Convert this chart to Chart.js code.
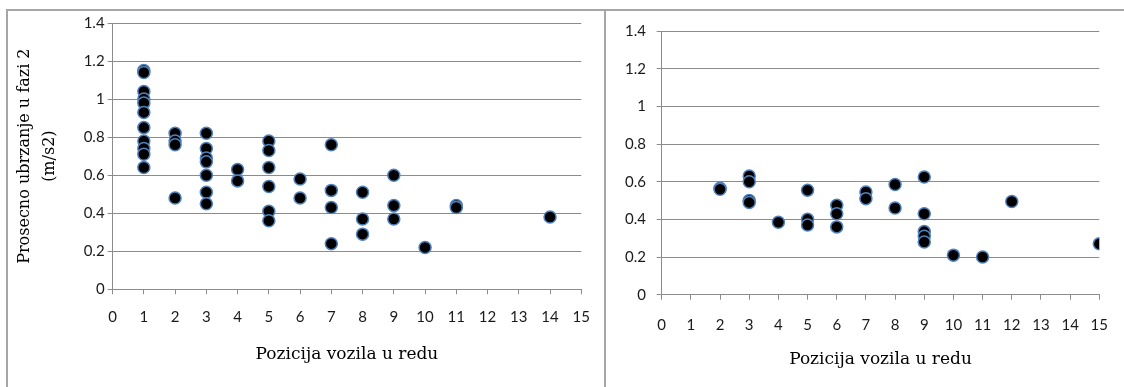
<!DOCTYPE html>
<html>
<head>
<meta charset="utf-8">
<script src="https://cdn.jsdelivr.net/npm/chart.js@4/dist/chart.umd.min.js"></script>
<style>
  body { margin: 0; background: #fff; width: 1124px; height: 387px; overflow: hidden; position: relative; }
  #frame { position: absolute; left: 6px; top: 9px; width: 1130px; height: 400px; border-left: 2px solid #a6a6a6; border-top: 2px solid #a6a6a6; }
  #sep { position: absolute; left: 604px; top: 9px; width: 2px; height: 380px; background: #a6a6a6; }
  canvas { position: absolute; }
  #left { left: 8px; top: 11px; }
  #right { left: 606px; top: 11px; }
</style>
</head>
<body>
<div id="frame"></div>
<div id="sep"></div>
<canvas id="left" width="596" height="376"></canvas>
<canvas id="right" width="518" height="376"></canvas>
<script>
// tick values and labels
const xTicks = [0, 1, 2, 3, 4, 5, 6, 7, 8, 9, 10, 11, 12, 13, 14, 15];
const yTicks = [0, 0.2, 0.4, 0.6, 0.8, 1, 1.2, 1.4];
const yTickLabels = ['0', '0.2', '0.4', '0.6', '0.8', '1', '1.2', '1.4'];

const xTitle = 'Pozicija vozila u redu';
const yTitle = ['Prosecno ubrzanje u fazi 2', '(m/s2)'];

// left chart: position in queue / average acceleration
const leftX = [1, 1, 1, 1, 1, 1, 1, 1, 1, 1, 1,
  2, 2, 2, 2,
  3, 3, 3, 3, 3, 3, 3,
  4, 4,
  5, 5, 5, 5, 5, 5,
  6, 6,
  7, 7, 7, 7,
  8, 8, 8,
  9, 9, 9,
  10,
  11, 11,
  14];
const leftY = [1.15, 1.14, 1.04, 1.00, 0.98, 0.93, 0.85, 0.78, 0.74, 0.71, 0.64,
  0.82, 0.78, 0.76, 0.48,
  0.82, 0.74, 0.69, 0.67, 0.60, 0.51, 0.45,
  0.63, 0.57,
  0.78, 0.73, 0.64, 0.54, 0.41, 0.36,
  0.58, 0.48,
  0.76, 0.52, 0.43, 0.24,
  0.51, 0.37, 0.29,
  0.60, 0.44, 0.37,
  0.22,
  0.44, 0.43,
  0.38];

// right chart
const rightX = [2, 2,
  3, 3, 3, 3,
  4,
  5, 5, 5,
  6, 6, 6,
  7, 7,
  8, 8,
  9, 9, 9, 9, 9,
  10,
  11,
  12,
  15];
const rightY = [0.565, 0.56,
  0.63, 0.60, 0.50, 0.49,
  0.385,
  0.555, 0.40, 0.37,
  0.475, 0.43, 0.36,
  0.545, 0.51,
  0.585, 0.46,
  0.625, 0.43, 0.335, 0.31, 0.28,
  0.21,
  0.20,
  0.495,
  0.27];

const tickFont = { family: 'Lato', size: 15 };
const titleFont = { family: 'DejaVu Serif', size: 17 };
const gridColor = '#8c8c8c';

function makeChart(canvas, xs, ys, cfg) {
  const points = xs.map((x, i) => ({ x: x, y: ys[i] }));
  return new Chart(canvas, {
    type: 'scatter',
    data: {
      datasets: [{
        data: points,
        backgroundColor: '#000000',
        borderColor: '#4f81bd',
        borderWidth: 1.5,
        pointRadius: 6,
        pointHoverRadius: 6
      }]
    },
    options: {
      responsive: false,
      animation: false,
      events: [],
      layout: { padding: cfg.padding },
      plugins: { legend: { display: false }, tooltip: { enabled: false } },
      scales: {
        x: {
          type: 'linear',
          min: 0,
          max: 15,
          afterBuildTicks: scale => { scale.ticks = xTicks.map(v => ({ value: v })); },
          afterFit: scale => { scale.height = cfg.xHeight; },
          ticks: { font: tickFont, color: '#1a1a1a', padding: cfg.xTickPad, maxRotation: 0, autoSkip: false },
          grid: { drawOnChartArea: false, drawTicks: true, tickLength: 5, color: gridColor },
          border: { color: gridColor, width: 1 },
          title: { display: true, text: xTitle, font: titleFont, color: '#000', padding: { top: 0, bottom: cfg.xTitlePad } }
        },
        y: {
          type: 'linear',
          min: 0,
          max: 1.4,
          afterBuildTicks: scale => { scale.ticks = yTicks.map(v => ({ value: v })); },
          afterFit: scale => { scale.width = cfg.yWidth; },
          ticks: { font: tickFont, color: '#1a1a1a', padding: cfg.yTickPad, callback: (v, i) => yTickLabels[i] },
          grid: { drawOnChartArea: true, drawTicks: true, tickLength: 5, color: gridColor },
          border: { color: gridColor, width: 1 },
          title: cfg.yTitle
        }
      }
    }
  });
}

makeChart(document.getElementById('left'), leftX, leftY, {
  padding: { top: 10.7, right: 17.4, bottom: 0, left: 0 },
  xHeight: 97.7,
  yWidth: 104.6,
  xTickPad: 14,
  yTickPad: 3,
  xTitlePad: 22,
  yTitle: {
    display: true,
    text: yTitle,
    font: { family: 'DejaVu Serif', size: 16, lineHeight: 1.55 },
    color: '#000',
    padding: { top: 4.5, bottom: 0 }
  }
});

makeChart(document.getElementById('right'), rightX, rightY, {
  padding: { top: 20, right: 16.3, bottom: 0, left: 0 },
  xHeight: 92.3,
  yWidth: 55.7,
  xTickPad: 16,
  yTickPad: 10.7,
  xTitlePad: 17,
  yTitle: { display: false }
});
</script>
</body>
</html>
